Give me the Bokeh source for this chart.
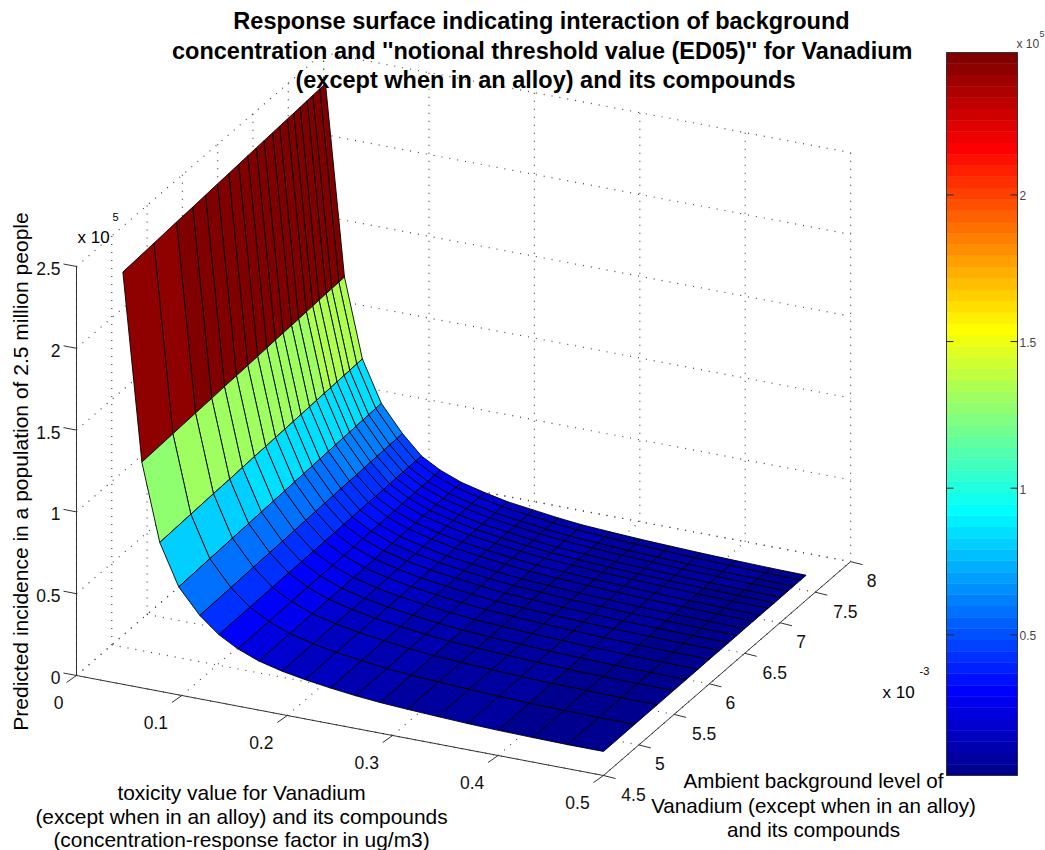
from bokeh.plotting import figure
from bokeh.embed import file_html
from bokeh.resources import INLINE
from bokeh.core.properties import value
from bokeh.models import Range1d

# ---- data ----
toxicity = [0.044, 0.062, 0.079, 0.097, 0.117, 0.135, 0.153, 0.173, 0.195, 0.217,
            0.241, 0.265, 0.288, 0.314, 0.343, 0.371, 0.400, 0.433, 0.466, 0.500]
background = [4.50, 4.94, 5.26, 5.49, 5.67, 5.84, 6.00, 6.14, 6.27, 6.39,
              6.50, 6.62, 6.72, 6.83, 6.92, 7.01, 7.11, 7.19, 7.29, 7.37]
# incidence (x 10^5); one row per toxicity value, one column per background level
incidence = [
    [2.520,2.532,2.542,2.547,2.553,2.558,2.562,2.566,2.570,2.573,2.576,2.579,2.582,2.585,2.587,2.590,2.593,2.595,2.598,2.600],
    [1.380,1.389,1.396,1.400,1.405,1.408,1.411,1.414,1.417,1.420,1.422,1.424,1.426,1.429,1.430,1.433,1.435,1.436,1.438,1.440],
    [.910,.918,.924,.927,.931,.934,.936,.939,.941,.943,.945,.947,.949,.951,.952,.954,.956,.957,.959,.960],
    [.660,.668,.674,.677,.681,.684,.686,.689,.691,.693,.695,.697,.699,.701,.702,.704,.706,.707,.709,.710],
    [.510,.516,.521,.524,.526,.529,.531,.533,.535,.536,.538,.540,.541,.542,.544,.545,.546,.548,.549,.550],
    [.415,.418,.420,.422,.423,.424,.425,.426,.427,.428,.429,.430,.430,.431,.432,.433,.433,.434,.434,.435],
    [.350,.353,.355,.357,.358,.359,.360,.361,.362,.363,.364,.365,.365,.366,.367,.368,.368,.369,.369,.370],
    [.300,.303,.305,.307,.308,.309,.310,.311,.312,.313,.314,.315,.315,.316,.317,.318,.318,.319,.319,.320],
    [.265,.268,.270,.272,.273,.274,.275,.276,.277,.278,.279,.280,.280,.281,.282,.283,.283,.284,.284,.285],
    [.240,.242,.244,.245,.246,.247,.248,.248,.249,.250,.250,.251,.252,.252,.253,.253,.254,.254,.255,.255],
    [.218,.221,.223,.224,.225,.226,.227,.228,.229,.229,.230,.231,.231,.232,.232,.233,.233,.234,.234,.235],
    [.200,.202,.204,.205,.206,.207,.208,.208,.209,.210,.210,.211,.212,.212,.213,.213,.214,.214,.215,.215],
    [.187,.189,.190,.191,.192,.193,.194,.194,.195,.196,.196,.197,.197,.198,.198,.198,.199,.199,.200,.200],
    [.177,.179,.180,.181,.182,.183,.184,.184,.185,.186,.186,.187,.187,.188,.188,.188,.189,.189,.190,.190],
    [.168,.170,.171,.172,.173,.174,.174,.175,.175,.176,.176,.177,.177,.178,.178,.178,.179,.179,.180,.180],
    [.160,.162,.163,.164,.165,.166,.167,.167,.168,.169,.169,.170,.170,.171,.171,.171,.172,.172,.173,.173],
    [.154,.156,.157,.158,.159,.160,.160,.161,.161,.162,.162,.163,.163,.164,.164,.164,.165,.165,.166,.166],
    [.150,.152,.153,.153,.154,.155,.155,.156,.156,.157,.157,.157,.158,.158,.158,.159,.159,.159,.160,.160],
    [.147,.148,.149,.150,.150,.151,.151,.152,.152,.152,.153,.153,.153,.153,.154,.154,.154,.155,.155,.155],
    [.147,.148,.148,.149,.149,.149,.150,.150,.150,.150,.151,.151,.151,.151,.151,.151,.152,.152,.152,.152],
]
tox_ticks = [0, 0.1, 0.2, 0.3, 0.4, 0.5]
tox_labels = ["0", "0.1", "0.2", "0.3", "0.4", "0.5"]
bg_ticks = [4.5, 5, 5.5, 6, 6.5, 7, 7.5, 8]
bg_labels = ["4.5", "5", "5.5", "6", "6.5", "7", "7.5", "8"]
z_ticks = [0, 0.5, 1, 1.5, 2, 2.5]
z_labels = ["0", "0.5", "1", "1.5", "2", "2.5"]
cb_ticks = [0.5, 1, 1.5, 2]
cb_labels = ["0.5", "1", "1.5", "2"]
title_lines = ["Response surface indicating interaction of background",
               "concentration and  ''notional threshold value (ED05)'' for Vanadium",
               "(except when in an alloy) and its compounds"]
xlabel_lines = ["toxicity value for Vanadium",
                "(except when in an alloy) and its compounds",
                "(concentration-response factor in ug/m3)"]
ylabel_lines = ["Ambient background level of",
                "Vanadium (except when in an alloy)",
                "and its compounds"]
zlabel = "Predicted incidence in a population of 2.5 million people"

FONT = value("Liberation Sans")
CMIN, CMAX = 0.12, 2.58          # surface colour limits
BAR_MIN, BAR_MAX = 0.0205, 2.4855  # colourbar limits


def jet(n=64):
    q = n // 4
    u = [i / q for i in range(1, q + 1)] + [1.0] * (q - 1) + [i / q for i in range(q, 0, -1)]
    off = q // 2
    out = [[0, 0, 0] for _ in range(n)]
    for k, v in enumerate(u):
        g = off + k
        r = g + q
        b = g - q
        if g < n:
            out[g][1] = v
        if r < n:
            out[r][0] = v
        if b >= 0:
            out[b][2] = v
    return ["#%02x%02x%02x" % tuple(int(round(c * 255)) for c in col) for col in out]


JET = jet()


def project(t, b, z):
    d = b - 4.5
    return (76 + t * 1054 + d * 70.6, 675 + t * 200 - d * 61.1 - z * 163.6)


p = figure(width=1045, height=850, output_backend="svg", toolbar_location=None,
           x_range=Range1d(0, 1045), y_range=Range1d(850, 0),
           min_border=0, outline_line_color=None, background_fill_color="white")
p.axis.visible = False
p.grid.visible = False

# ---- dotted box grid ----
T0, T1 = tox_ticks[0], tox_ticks[-1]
B0, B1 = bg_ticks[0], bg_ticks[-1]
Z0, Z1 = z_ticks[0], z_ticks[-1]
gx, gy = [], []


def seg(a, c):
    pa, pc = project(*a), project(*c)
    gx.append([pa[0], pc[0]])
    gy.append([pa[1], pc[1]])


for t in tox_ticks:
    seg((t, B0, 0), (t, B1, 0))
    seg((t, B1, Z0), (t, B1, Z1))
for b in bg_ticks:
    seg((T0, b, 0), (T1, b, 0))
    seg((T0, b, Z0), (T0, b, Z1))
for z in z_ticks:
    seg((T0, B0, z), (T0, B1, z))
    seg((T0, B1, z), (T1, B1, z))
p.multi_line(gx, gy, line_color="#444444", line_width=1.2, line_dash="1 7")

# ---- axis lines and ticks ----
ax, ay = [], []


def aseg(p0, p1):
    ax.append([p0[0], p1[0]])
    ay.append([p0[1], p1[1]])


aseg(project(T0, B0, 0), project(T1, B0, 0))
aseg(project(T1, B0, 0), project(T1, B1, 0))
aseg(project(T0, B0, 0), project(T0, B0, Z1))
for t in tox_ticks:
    q = project(t, B0, 0)
    aseg(q, (q[0] - 10, q[1] + 7))
for b in bg_ticks:
    q = project(T1, b, 0)
    aseg(q, (q[0] + 12, q[1] + 3))
for z in z_ticks:
    q = project(T0, B0, z)
    aseg(q, (q[0] - 13, q[1] - 2.5))
p.multi_line(ax, ay, line_color="#333333", line_width=1)

# ---- surface: far faces first ----
xs, ys, cols = [], [], []
for i in range(len(toxicity) - 1):
    for j in range(len(background) - 2, -1, -1):
        corners = [(i, j), (i + 1, j), (i + 1, j + 1), (i, j + 1)]
        pts = [project(toxicity[a], background[c], incidence[a][c]) for a, c in corners]
        xs.append([q[0] for q in pts])
        ys.append([q[1] for q in pts])
        k = int(64 * (incidence[i][j] - CMIN) / (CMAX - CMIN))
        cols.append(JET[max(0, min(63, k))])
p.patches(xs, ys, fill_color=cols, line_color="black", line_width=0.9)

# ---- tick labels ----
for t, s in zip(tox_ticks, tox_labels):
    q = project(t, B0, 0)
    p.text([q[0] - (26 if len(s) > 1 else 18)], [q[1] + 27], text=[s], text_font=FONT, text_font_size="17.5px",
           text_align="center", text_baseline="middle", text_color="#111111")
for b, s in zip(bg_ticks, bg_labels):
    q = project(T1, b, 0)
    p.text([q[0] + (30 if len(s) > 1 else 21)], [q[1] + 19], text=[s], text_font=FONT, text_font_size="17.5px",
           text_align="center", text_baseline="middle", text_color="#111111")
for z, s in zip(z_ticks, z_labels):
    q = project(T0, B0, z)
    p.text([q[0] - 16], [q[1] + 2], text=[s], text_font=FONT, text_font_size="17.5px",
           text_align="right", text_baseline="middle", text_color="#111111")


def label(x, y, s, size, color="#000000", align="center", style="normal", angle=0.0):
    p.text([x], [y], text=[s], text_font=FONT, text_font_size=size, text_align=align,
           text_baseline="middle", text_color=color, text_font_style=style, angle=angle)


label(77, 237, "x 10", "17px", align="left")
label(112, 216, "5", "11px", align="left")
label(882, 692, "x 10", "17px", align="left")
label(919, 670, "-3", "11px", align="left")

# ---- titles and axis names ----
for x, y, s in zip([541, 545, 545], [20, 50, 79], title_lines):
    label(x, y, s, "23.5px", style="bold")
for y, s in zip([792, 816, 839], xlabel_lines):
    label(241, y, s, "20.9px")
for y, s in zip([780, 805, 829], ylabel_lines):
    label(813, y, s, "20.6px")
label(20, 471, zlabel, "21px", angle=1.5708)

# ---- colourbar ----
BX0, BX1, BY0, BY1 = 946, 1017, 775, 52
h = (BY0 - BY1) / 64
p.quad(left=[BX0] * 64, right=[BX1] * 64,
       bottom=[BY0 - k * h for k in range(64)],
       top=[BY0 - (k + 1) * h for k in range(64)],
       fill_color=JET, line_color=JET, line_width=0.5)
p.quad(left=[BX0], right=[BX1], bottom=[BY0], top=[BY1], fill_alpha=0,
       line_color="#333333", line_width=1)
for v, s in zip(cb_ticks, cb_labels):
    y = BY0 - (v - BAR_MIN) / (BAR_MAX - BAR_MIN) * (BY0 - BY1)
    p.multi_line([[BX0, BX0 + 7], [BX1 - 7, BX1]], [[y, y], [y, y]], line_color="#222222", line_width=1)
    label(1019, y + 1, s, "12px", color="#444444", align="left")
label(1016, 43, "x 10", "12px", color="#444444", align="left")
label(1039, 33, "5", "9px", color="#444444", align="left")

open("out.html", "w").write(file_html(p, INLINE))
